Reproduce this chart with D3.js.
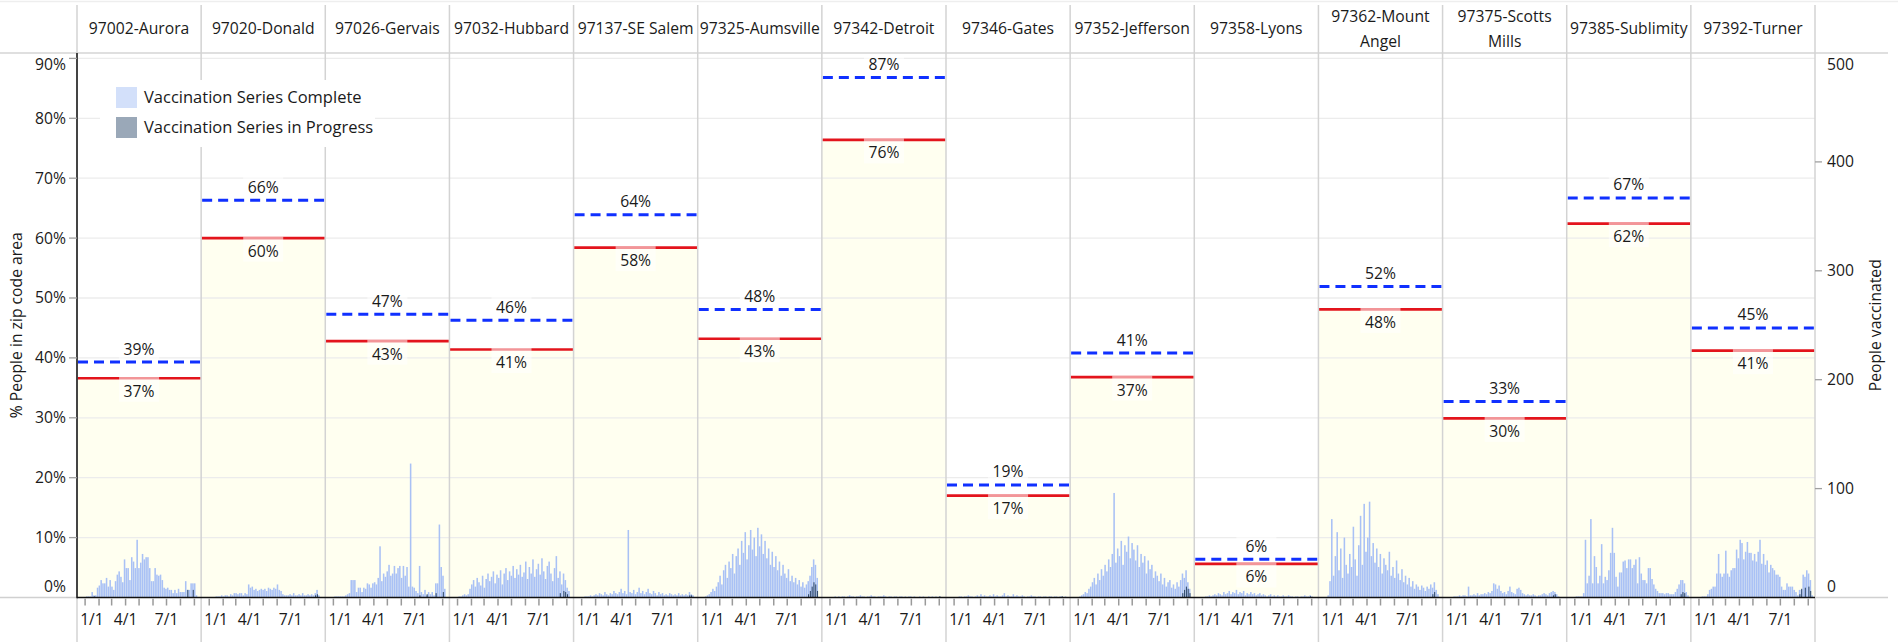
<!DOCTYPE html>
<html>
<head>
<meta charset="utf-8">
<script src="https://cdn.jsdelivr.net/npm/d3@7"></script>
<style>
  body { margin: 0; background: #fff; }
  svg text { font-family: "Open Sans", Lato, sans-serif; fill: #1a1a1a; font-size: 15.7px; }
</style>
</head>
<body>
<svg id="chart"></svg>
<script>
// ---- data ----
var zips = ["97002-Aurora", "97020-Donald", "97026-Gervais", "97032-Hubbard", "97137-SE Salem",
  "97325-Aumsville", "97342-Detroit", "97346-Gates", "97352-Jefferson", "97358-Lyons",
  "97362-Mount Angel", "97375-Scotts Mills", "97385-Sublimity", "97392-Turner"];

// % of people with series complete (red) / at least in progress (blue dashed)
var pctComplete = [36.6, 60.0, 42.8, 41.4, 58.4, 43.2, 76.4, 17.0, 36.8, 5.6, 48.1, 29.9, 62.4, 41.2];
var pctProgress = [39.3, 66.3, 47.3, 46.3, 63.9, 48.1, 86.8, 18.8, 40.8, 6.4, 51.9, 32.7, 66.7, 45.0];

// people vaccinated, 4-day bins starting 2020-12-18
var binStart = new Date(2020, 11, 18);
var binDays = 4;
var completeBars = [
  [0,0,0,0,1,1,1,5,2,2, 9,11,16,13,13,18,10,16,10,7, 15,21,24,19,14,35,27,27,16,37, 33,27,53,27,32,40,35,37,37,27, 15,15,27,21,20,21,16,9,8,9, 7,7,4,7,4,8,5,5,5,15, 7,7,13,13,13,2,0,0],
  [0,0,0,0,0,0,0,1,1,1, 2,1,2,2,1,3,2,4,4,3, 4,4,2,4,3,12,9,10,7,8, 6,7,8,7,8,6,9,8,7,9, 8,12,7,6,3,2,2,2,3,2, 4,2,2,3,2,4,2,2,3,2, 3,2,4,7,2,0,0,0],
  [0,0,0,0,1,1,1,1,1,1, 2,3,4,16,16,16,5,9,9,5, 9,8,13,12,9,13,14,12,18,47, 15,22,19,24,30,20,22,29,22,27, 29,18,29,20,28,10,123,10,9,6, 4,29,5,3,7,2,5,3,5,2, 13,13,67,28,20,8,0,0],
  [0,0,0,0,1,1,2,3,2,3, 8,12,16,10,18,14,11,20,9,17, 22,15,19,24,13,21,18,25,12,22, 27,16,24,20,29,18,26,21,30,19, 23,33,17,28,22,35,19,26,31,21, 36,24,17,29,33,22,15,27,38,18, 24,12,22,16,9,6,0,0],
  [0,0,0,0,0,1,1,1,2,1, 2,3,2,4,3,2,5,3,2,4, 3,6,4,3,5,8,4,6,3,62, 5,4,7,3,5,9,4,6,3,5, 8,4,3,6,4,2,5,3,4,2, 3,2,4,3,2,3,2,4,2,3, 2,3,2,5,3,2,0,0],
  [0,0,0,1,2,3,5,8,6,10, 14,20,12,25,30,18,33,27,40,22, 38,45,30,52,41,60,35,48,62,44, 55,38,64,47,58,40,52,36,45,30, 42,28,38,25,33,20,30,22,18,26, 15,20,14,18,12,16,10,14,9,12, 15,20,28,35,30,18,0,0],
  [0,0,0,0,0,0,1,0,1,0, 1,1,0,1,2,1,1,0,1,1, 2,1,1,0,1,1,2,1,1,0, 1,1,1,2,1,0,1,1,0,1, 1,0,1,1,0,1,0,1,1,0, 1,0,0,1,0,1,0,0,1,0, 1,0,1,0,1,0,0,0],
  [0,0,0,0,0,0,1,1,0,1, 1,2,1,1,0,1,2,1,3,1, 2,1,1,2,1,3,1,2,1,1, 2,4,1,2,1,1,3,1,2,1, 1,2,1,0,1,1,2,1,1,0, 1,1,0,1,1,0,1,1,0,1, 1,0,1,1,0,1,0,0],
  [0,0,0,0,1,2,3,5,4,8, 10,14,18,12,22,16,26,20,30,24, 35,28,40,96,32,45,38,52,30,48, 42,56,36,50,44,34,48,28,40,32, 38,22,34,26,30,18,24,20,15,22, 12,18,10,14,16,9,12,8,14,10, 16,22,18,25,14,8,0,0],
  [0,0,0,0,0,1,1,2,1,2, 3,2,4,3,2,5,3,4,6,3, 5,4,7,3,5,4,6,2,4,3, 5,3,4,2,3,4,2,3,2,1, 2,3,1,2,1,2,1,1,2,1, 1,2,1,1,0,1,1,0,1,1, 2,1,1,2,1,0,0,0],
  [0,0,0,0,2,15,72,20,38,60, 25,45,18,55,30,22,40,28,65,35, 20,48,75,30,86,42,55,88,38,50, 32,45,28,40,22,36,30,25,42,20, 28,18,34,22,16,26,14,20,12,18, 10,15,8,12,10,7,11,9,6,10, 8,12,9,14,7,3,0,0],
  [0,0,0,0,0,1,1,1,2,1, 2,2,1,10,2,2,3,2,4,2, 3,3,4,3,5,4,6,13,12,8, 11,6,4,5,3,6,10,5,4,3, 8,9,7,4,3,2,3,2,2,3, 2,1,2,2,3,4,3,2,4,5, 6,5,3,1,0,0,0,0],
  [0,0,0,0,1,1,1,1,4,53, 13,20,72,13,38,28,13,20,49,13, 19,16,25,41,64,41,19,10,23,23, 33,34,27,35,35,27,30,35,13,37, 22,16,16,13,27,27,17,12,8,6, 4,4,4,3,4,4,3,3,3,5, 8,12,16,16,13,5,2,0],
  [0,0,0,0,0,1,1,1,3,7, 8,10,10,22,40,22,19,22,43,22, 19,25,27,27,44,36,53,50,35,42, 51,41,41,34,40,33,42,53,31,40, 30,34,23,30,27,25,21,21,19,10, 7,7,13,10,10,10,7,5,2,7, 7,21,19,25,22,16,2,0]
];
// series in progress: [bin, people]
var progressBars = [
  [[8,1],[60,7],[63,7]],
  [[62,2],[63,3]],
  [[51,2],[55,3],[60,4],[64,5]],
  [[60,4],[62,6],[63,5],[64,3]],
  [[63,2],[64,2]],
  [[60,3],[61,6],[62,10],[63,14],[64,12],[65,6]],
  [[64,1]],
  [[63,1]],
  [[61,4],[62,7],[63,10],[64,8],[65,4]],
  [[63,1]],
  [[62,3],[63,5]],
  [[60,2],[61,3]],
  [[62,3],[63,5],[64,4]],
  [[59,3],[60,8],[62,9],[64,10],[65,6]]
];

var pctTicks = [0, .1, .2, .3, .4, .5, .6, .7, .8, .9];
var peopleTicks = [0, 100, 200, 300, 400, 500];
var monthTicks = d3.timeMonths(new Date(2021, 0, 1), new Date(2021, 8, 2));
var labelMonths = [0, 3, 6]; // 1/1, 4/1, 7/1

// ---- layout ----
var width = 1898, height = 642;
var plotLeft = 77, plotRight = 1815, plotTop = 53, base = 597.5;

var svg = d3.select("#chart").attr("width", width).attr("height", height);

var x0 = d3.scaleBand().domain(zips).range([plotLeft, plotRight]);
var bw = x0.bandwidth();
var yPct = d3.scaleLinear().domain([0, 0.909]).range([base, plotTop]);
var yPeople = d3.scaleLinear().domain([0, 500]).range([base, plotTop]);
var xt = d3.scaleTime().domain([new Date(2020, 11, 14), new Date(2021, 8, 16)]).range([0, bw]);

// layers, bottom to top
var gFill = svg.append("g"), gGrid = svg.append("g"), gMarks = svg.append("g"),
    gRefs = svg.append("g"), gFrame = svg.append("g"), gText = svg.append("g");

function panelsIn(layer) {
  return layer.append("g").selectAll(null).data(zips).enter().append("g")
    .attr("transform", function(d) { return "translate(" + x0(d) + ",0)"; });
}

// frame lines
gFrame.append("line").attr("x1", 0).attr("x2", width).attr("y1", 1.5).attr("y2", 1.5)
  .attr("stroke", "#eeeeee").attr("stroke-width", 1.5);
gFrame.append("line").attr("x1", 0).attr("x2", 1888).attr("y1", plotTop).attr("y2", plotTop)
  .attr("stroke", "#d4d4d4").attr("stroke-width", 1.5);

// cream fill under the "complete" level
panelsIn(gFill).append("rect")
  .attr("x", 0).attr("width", bw)
  .attr("y", function(d, i) { return yPct(pctComplete[i] / 100); })
  .attr("height", function(d, i) { return base - yPct(pctComplete[i] / 100); })
  .attr("fill", "#fffff0");

// gridlines
gGrid.selectAll(".grid").data(pctTicks.slice(1)).enter().append("line")
  .attr("x1", plotLeft).attr("x2", plotRight)
  .attr("y1", function(d) { return yPct(d); }).attr("y2", function(d) { return yPct(d); })
  .attr("stroke", "#ececec").attr("stroke-width", 1.3);

// bars
panelsIn(gMarks).each(function(zip, k) {
  var g = d3.select(this);
  var bins = completeBars[k].map(function(v, i) {
    return { date: d3.timeDay.offset(binStart, i * binDays), v: v };
  });
  g.selectAll(".bar").data(bins.filter(function(b) { return b.v > 0; })).enter().append("rect")
    .attr("x", function(b) { return xt(b.date); })
    .attr("width", function(b) { return xt(d3.timeDay.offset(b.date, binDays)) - xt(b.date) - 0.25; })
    .attr("y", function(b) { return yPeople(b.v); })
    .attr("height", function(b) { return base - yPeople(b.v); })
    .attr("fill", "#a9c1f5");
  g.selectAll(".prog").data(progressBars[k]).enter().append("rect")
    .attr("x", function(p) { return xt(d3.timeDay.offset(binStart, p[0] * binDays)) + 0.6; })
    .attr("width", 1)
    .attr("y", function(p) { return yPeople(p[1]); })
    .attr("height", function(p) { return base - yPeople(p[1]); })
    .attr("fill", "#2b4566");
});

// reference lines + labels
panelsIn(gRefs).each(function(zip, k) {
  var g = d3.select(this);
  var yb = yPct(pctProgress[k] / 100), yr = yPct(pctComplete[k] / 100);
  var fmt = d3.format(".0f");
  g.append("line").attr("x1", 1).attr("x2", bw - 1).attr("y1", yb).attr("y2", yb)
    .attr("stroke", "#1030ff").attr("stroke-width", 3).attr("stroke-dasharray", "10,6");
  g.append("line").attr("x1", 0.5).attr("x2", bw - 0.5).attr("y1", yr).attr("y2", yr)
    .attr("stroke", "#e3141c").attr("stroke-width", 2.7);

  g.append("rect").attr("x", bw / 2 - 20).attr("width", 40).attr("y", yb - 25).attr("height", 22)
    .attr("fill", "#fff").attr("opacity", 0.6);
  g.append("text").attr("x", bw / 2).attr("y", yb - 13).attr("dy", "0.35em")
    .attr("text-anchor", "middle").text(fmt(pctProgress[k]) + "%");

  g.append("rect").attr("x", bw / 2 - 20).attr("width", 40).attr("y", yr - 1.5).attr("height", 25)
    .attr("fill", "#fff").attr("opacity", 0.55);
  g.append("text").attr("x", bw / 2).attr("y", yr + 13).attr("dy", "0.35em")
    .attr("text-anchor", "middle").text(fmt(pctComplete[k]) + "%");
});

// column dividers
var divs = zips.map(function(d) { return x0(d); }).concat([plotRight]);
gFrame.selectAll(".div").data(divs).enter().append("line")
  .attr("x1", function(d) { return d; }).attr("x2", function(d) { return d; })
  .attr("y1", 5).attr("y2", height)
  .attr("stroke", "#d3d3d3").attr("stroke-width", 1.5);

// x axis ticks + labels
panelsIn(gText).each(function(zip, k) {
  var g = d3.select(this);
  g.selectAll(".mt").data(monthTicks).enter().append("line")
    .attr("x1", function(d) { return xt(d); }).attr("x2", function(d) { return xt(d); })
    .attr("y1", base + 1).attr("y2", base + 8)
    .attr("stroke", "#9a9a9a").attr("stroke-width", 1.5);
  g.selectAll(".ml").data(labelMonths).enter().append("text")
    .attr("x", function(m) { return Math.max(xt(monthTicks[m]), 15); })
    .attr("y", 620).attr("dy", "0.35em").attr("text-anchor", "middle")
    .text(function(m) { return d3.timeFormat("%-m/%-d")(monthTicks[m]); });
});

// zero line and grey extensions
gFrame.append("line").attr("x1", 0).attr("x2", plotLeft).attr("y1", base).attr("y2", base)
  .attr("stroke", "#d0d0d0").attr("stroke-width", 1.5);
gFrame.append("line").attr("x1", plotRight).attr("x2", 1888).attr("y1", base).attr("y2", base)
  .attr("stroke", "#d0d0d0").attr("stroke-width", 1.5);
gFrame.append("line").attr("x1", plotLeft).attr("x2", plotRight).attr("y1", base).attr("y2", base)
  .attr("stroke", "#111").attr("stroke-width", 1.5);

// left axis
gFrame.append("line").attr("x1", plotLeft).attr("x2", plotLeft).attr("y1", plotTop).attr("y2", base + 0.75)
  .attr("stroke", "#111").attr("stroke-width", 1.5);
var la = gText.append("g").selectAll("g").data(pctTicks).enter().append("g");
la.filter(function(d) { return d > 0; }).append("line")
  .attr("x1", 69).attr("x2", plotLeft).attr("y1", function(d) { return yPct(d); }).attr("y2", function(d) { return yPct(d); })
  .attr("stroke", "#a0a0a0").attr("stroke-width", 1.3);
la.append("text").attr("x", 66).attr("text-anchor", "end").attr("dy", "0.35em")
  .attr("y", function(d) { return Math.min(Math.max(yPct(d), plotTop + 12), base - 10.5); })
  .text(d3.format(".0%"));

// right axis
var ra = gText.append("g").selectAll("g").data(peopleTicks).enter().append("g");
ra.filter(function(d) { return d > 0 && d < 500; }).append("line")
  .attr("x1", plotRight).attr("x2", plotRight + 7).attr("y1", function(d) { return yPeople(d); }).attr("y2", function(d) { return yPeople(d); })
  .attr("stroke", "#a0a0a0").attr("stroke-width", 1.3);
ra.append("text").attr("x", 1827).attr("dy", "0.35em")
  .attr("y", function(d) { return Math.min(Math.max(yPeople(d), plotTop + 12), base - 10.5); })
  .text(function(d) { return d; });

// axis titles
gText.append("text").attr("transform", "translate(16," + (plotTop + base) / 2 + ") rotate(-90)")
  .attr("dy", "0.35em").attr("text-anchor", "middle").text("% People in zip code area");
gText.append("text").attr("transform", "translate(1875," + (plotTop + base) / 2 + ") rotate(-90)")
  .attr("dy", "0.35em").attr("text-anchor", "middle").text("People vaccinated");

// column headers (wrap long names)
panelsIn(gText).each(function(zip) {
  var g = d3.select(this);
  var t = g.append("text").attr("x", bw / 2).attr("y", 29).attr("dy", "0.35em")
    .attr("text-anchor", "middle").text(zip);
  if (t.node().getComputedTextLength() > bw - 2 && zip.indexOf(" ") > 0) {
    var cut = zip.lastIndexOf(" ");
    t.text(null);
    t.append("tspan").attr("x", bw / 2).attr("y", 16.5).attr("dy", "0.35em").text(zip.slice(0, cut));
    t.append("tspan").attr("x", bw / 2).attr("y", 41.5).attr("dy", "0.35em").text(zip.slice(cut + 1));
  }
});

// legend
var legend = gText.append("g");
legend.append("rect").attr("x", 100).attr("y", 80).attr("width", 275).attr("height", 67).attr("fill", "#fff");
var items = legend.selectAll(".item")
  .data([["Vaccination Series Complete", "#d3e0fa"], ["Vaccination Series in Progress", "#9aa8b8"]])
  .enter().append("g")
  .attr("transform", function(d, i) { return "translate(116," + (87 + i * 30) + ")"; });
items.append("rect").attr("width", 21).attr("height", 21).attr("fill", function(d) { return d[1]; });
items.append("text").attr("x", 28).attr("y", 10.5).attr("dy", "0.35em").style("font-size", "16.5px")
  .text(function(d) { return d[0]; });
</script>
</body>
</html>
